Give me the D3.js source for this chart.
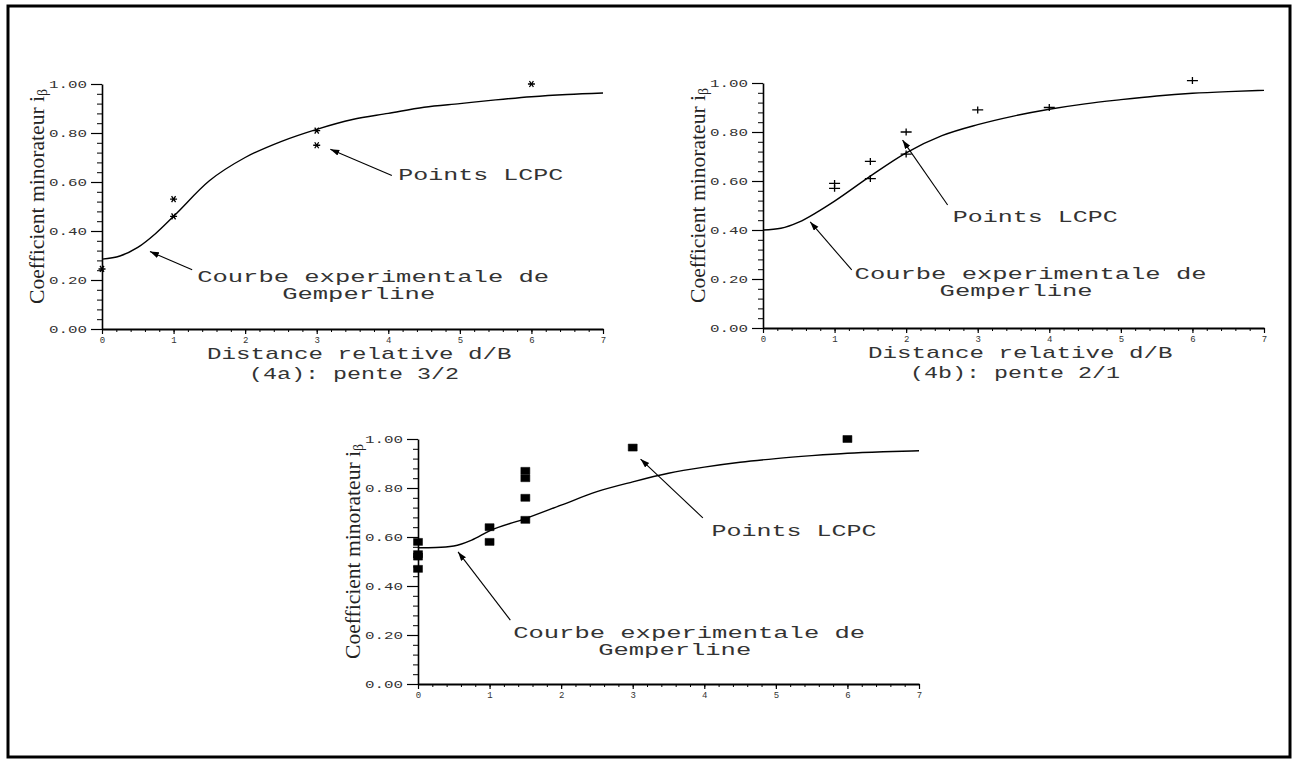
<!DOCTYPE html>
<html>
<head>
<meta charset="utf-8">
<script src="https://cdn.jsdelivr.net/npm/d3@7"></script>
<style>
body { margin: 0; background: #fff; }
</style>
</head>
<body>
<div id="chart"></div>
<script>
// d/B values where the Gemperline curves were read
var curveX = [0, 0.25, 0.5, 0.75, 1, 1.5, 2, 2.5, 3, 3.5, 4, 4.5, 5, 5.5, 6, 6.5, 7];
var curveA = [0.285, 0.298, 0.333, 0.39, 0.46, 0.605, 0.70, 0.765, 0.815, 0.855, 0.88, 0.905, 0.92, 0.935, 0.948, 0.957, 0.963];
var curveB = [0.40, 0.407, 0.432, 0.472, 0.518, 0.62, 0.715, 0.785, 0.83, 0.865, 0.893, 0.915, 0.932, 0.947, 0.958, 0.965, 0.97];
var curveC = [0.556, 0.557, 0.563, 0.587, 0.625, 0.675, 0.73, 0.785, 0.825, 0.86, 0.885, 0.905, 0.92, 0.932, 0.942, 0.948, 0.952];

// points LCPC
var ptsAX = [0, 1, 1, 3, 3, 6];
var ptsAY = [0.245, 0.46, 0.53, 0.81, 0.75, 1.00];
var ptsBX = [1, 1, 1.5, 1.5, 2, 2, 3, 4, 6];
var ptsBY = [0.57, 0.59, 0.68, 0.61, 0.80, 0.71, 0.89, 0.90, 1.01];
var ptsCX = [0, 0, 0, 0, 1, 1, 1.5, 1.5, 1.5, 1.5, 3, 6];
var ptsCY = [0.58, 0.53, 0.52, 0.47, 0.64, 0.58, 0.87, 0.84, 0.76, 0.67, 0.965, 1.00];

var xTicks = [0, 1, 2, 3, 4, 5, 6, 7];
var yTicks = [0, 0.2, 0.4, 0.6, 0.8, 1.0];
var yTickLabels = ["0.00", "0.20", "0.40", "0.60", "0.80", "1.00"];

var width = 1297;
var height = 763;
var W = 501, H = 245;

var svg = d3.select('#chart')
          .append('svg')
          .attr('width', width)
          .attr('height', height)
          .style('font-family', '"Liberation Mono", "DejaVu Sans Mono", monospace');

svg.append('rect').attr('width', width).attr('height', height).attr('fill', '#fff');
svg.append('rect')
   .attr('x', 8).attr('y', 6).attr('width', 1282).attr('height', 751)
   .attr('fill', 'none').attr('stroke', '#000').attr('stroke-width', 3);

svg.append('defs').append('marker')
   .attr('id', 'arrow')
   .attr('markerUnits', 'userSpaceOnUse')
   .attr('markerWidth', 10).attr('markerHeight', 8)
   .attr('refX', 9).attr('refY', 3)
   .attr('orient', 'auto')
   .append('path').attr('d', 'M0,0 L9,3 L0,6 Z').attr('fill', '#000');

// marker shapes of the scan
var asterisk = {draw: function(ctx) {
	ctx.moveTo(-3.5, 0); ctx.lineTo(3.5, 0);
	ctx.moveTo(-2, -3); ctx.lineTo(2, 3);
	ctx.moveTo(2, -3); ctx.lineTo(-2, 3);
}};
var plus = {draw: function(ctx) {
	ctx.moveTo(-5.5, 0); ctx.lineTo(5.5, 0);
	ctx.moveTo(0, -3.5); ctx.lineTo(0, 3.5);
}};
var block = {draw: function(ctx) {
	ctx.rect(-4.5, -3.5, 9, 7);
}};

var panels = [
	{ox: 102, oy: 84, cy: curveA, px: ptsAX, py: ptsAY, mark: asterisk, filled: false,
	 lcpc: {tip: [3.19, 0.734], from: [4.05, 0.627], text: [4.14, 0.607]},
	 courbe: {tip: [0.67, 0.316], from: [1.26, 0.242], text: [1.33, 0.19]},
	 xlabel: "Distance relative d/B", sub: "(4a): pente 3/2"},
	{ox: 763, oy: 83, cy: curveB, px: ptsBX, py: ptsBY, mark: plus, filled: false,
	 lcpc: {tip: [1.95, 0.767], from: [2.58, 0.502], text: [2.65, 0.433]},
	 courbe: {tip: [0.66, 0.433], from: [1.24, 0.237], text: [1.28, 0.198]},
	 xlabel: "Distance relative d/B", sub: "(4b): pente 2/1"},
	{ox: 418, oy: 439, cy: curveC, px: ptsCX, py: ptsCY, mark: block, filled: true,
	 lcpc: {tip: [3.11, 0.918], from: [3.98, 0.678], text: [4.10, 0.604]},
	 courbe: {tip: [0.56, 0.539], from: [1.29, 0.261], text: [1.33, 0.186]},
	 xlabel: null, sub: null}
];

function plotText(g, str, x, y, size, pitch) {
	return g.append('text')
	        .attr('x', x).attr('y', y)
	        .attr('font-size', size)
	        .attr('textLength', str.length * pitch)
	        .attr('lengthAdjust', 'spacingAndGlyphs')
	        .attr('fill', '#333')
	        .text(str);
}

panels.forEach(function(p) {
	var g = svg.append('g').attr('transform', 'translate(' + p.ox + ',' + p.oy + ')');
	var x = d3.scaleLinear().domain([0, 7]).range([0, W]);
	var y = d3.scaleLinear().domain([0, 1]).range([H, 0]);

	// minor ticks
	g.append('g')
	 .call(d3.axisLeft(y).tickValues(d3.range(0, 1.001, 0.04)).tickSize(5).tickFormat(''))
	 .call(function(a) { a.select('.domain').remove(); a.selectAll('line').attr('stroke-width', 1); });
	g.append('g')
	 .attr('transform', 'translate(0,' + H + ')')
	 .call(d3.axisBottom(x).tickValues(d3.range(0, 7.001, 0.2)).tickSize(3).tickFormat(''))
	 .call(function(a) { a.select('.domain').remove(); a.selectAll('line').attr('stroke-width', 1); });

	// major axes
	var ya = g.append('g')
	 .call(d3.axisLeft(y).tickValues(yTicks).tickSize(11).tickSizeOuter(0).tickPadding(4)
	         .tickFormat(function(d, i) { return yTickLabels[i]; }));
	ya.select('.domain').attr('stroke-width', 1.6);
	ya.selectAll('line').attr('stroke-width', 1.2);
	ya.selectAll('text')
	  .attr('font-size', 10).attr('font-family', '"Liberation Mono", monospace')
	  .attr('textLength', 38).attr('lengthAdjust', 'spacingAndGlyphs').attr('fill', '#333');

	var xa = g.append('g')
	 .attr('transform', 'translate(0,' + H + ')')
	 .call(d3.axisBottom(x).tickValues(xTicks).tickSize(5).tickSizeOuter(0).tickPadding(3)
	         .tickFormat(d3.format('d')));
	xa.select('.domain').attr('stroke-width', 2.2);
	xa.selectAll('line').attr('stroke-width', 1.2);
	xa.selectAll('text')
	  .attr('font-size', 9).attr('font-family', '"Liberation Mono", monospace').attr('fill', '#333');

	// Gemperline curve
	var line = d3.line()
	             .x(function(d, i) { return x(curveX[i]); })
	             .y(function(d) { return y(d); })
	             .curve(d3.curveMonotoneX);
	g.append('path')
	 .datum(p.cy)
	 .attr('d', line)
	 .attr('fill', 'none')
	 .attr('stroke', '#000')
	 .attr('stroke-width', 1.4);

	// points LCPC
	var sym = d3.symbol().type(p.mark);
	g.selectAll('.pt')
	 .data(p.py)
	 .enter().append('path')
	 .attr('class', 'pt')
	 .attr('transform', function(d, i) { return 'translate(' + x(p.px[i]) + ',' + y(d) + ')'; })
	 .attr('d', sym)
	 .attr('fill', p.filled ? '#000' : 'none')
	 .attr('stroke', '#000')
	 .attr('stroke-width', p.filled ? 0.5 : 1.3);

	// annotations
	[p.lcpc, p.courbe].forEach(function(a) {
		g.append('line')
		 .attr('x1', x(a.from[0])).attr('y1', y(a.from[1]))
		 .attr('x2', x(a.tip[0])).attr('y2', y(a.tip[1]))
		 .attr('stroke', '#000').attr('stroke-width', 1.1)
		 .attr('marker-end', 'url(#arrow)');
	});
	plotText(g, 'Points LCPC', x(p.lcpc.text[0]), y(p.lcpc.text[1]), 17, 15);
	plotText(g, 'Courbe experimentale de', x(p.courbe.text[0]), y(p.courbe.text[1]), 16, 15.3);
	plotText(g, 'Gemperline', x(p.courbe.text[0]) + 85, y(p.courbe.text[1]) + 17, 16, 15.3);

	// axis titles
	var yt = g.append('text')
	 .attr('transform', 'translate(-58,' + (H / 2 - 10) + ') rotate(-90)')
	 .attr('text-anchor', 'middle')
	 .attr('font-family', '"Liberation Serif", "DejaVu Serif", serif')
	 .attr('font-size', 22)
	 .attr('textLength', 215)
	 .attr('lengthAdjust', 'spacingAndGlyphs')
	 .attr('fill', '#222');
	yt.append('tspan').text('Coefficient minorateur i');
	yt.append('tspan').attr('font-size', 14).attr('dy', 3).text('\u03b2');

	if (p.xlabel) plotText(g, p.xlabel, 105, H + 30, 17, 14.5);
	if (p.sub) plotText(g, p.sub, 147, H + 50, 16, 14);
});
</script>
</body>
</html>
